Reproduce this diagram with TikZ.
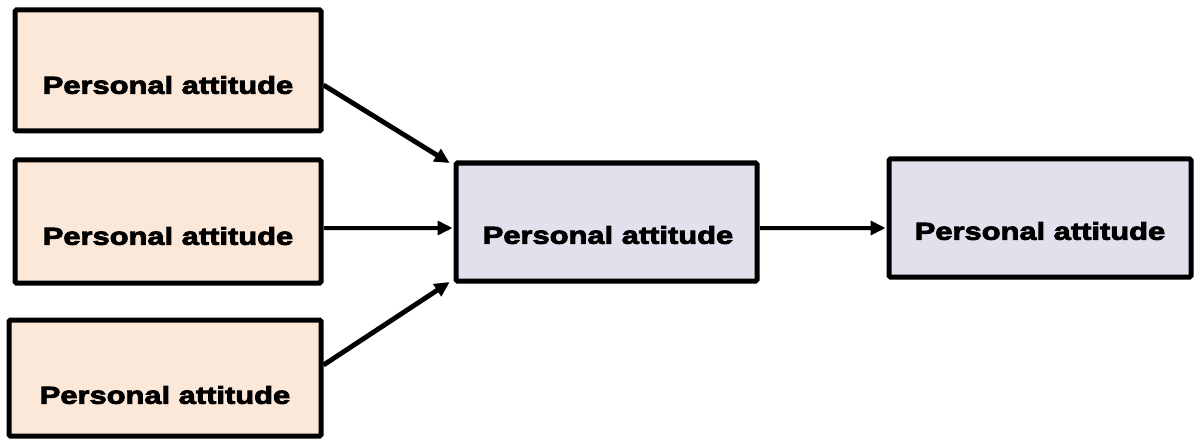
\documentclass[tikz,border=0pt]{standalone}
\usepackage{fontspec}
\usetikzlibrary{calc,arrows.meta}
\newfontfamily\boxfont{Liberation Sans}[BoldFeatures={FakeBold=3.5,FakeStretch=1.26}]
\definecolor{peach}{HTML}{FCE8D9}
\definecolor{lavender}{HTML}{E4DFEC}
\tikzset{
  box/.style={draw=black, line width=5pt, rounded corners=1.5pt, inner sep=0pt},
  inbox/.style={box, fill=peach},
  outbox/.style={box, fill=lavender},
  boxtext/.style={font=\boxfont\bfseries\fontsize{24.5}{28}\selectfont, text=black, inner sep=0pt},
  link/.style={line width=4.8pt, -{Triangle[length=15pt,width=14pt]}, shorten >=1pt},
  linkshadow/.style={line width=5pt, draw=black!25, opacity=0.6, shorten >=4pt}
}
\begin{document}
\begin{tikzpicture}[x=1pt,y=-1pt]
  \useasboundingbox (0,0) rectangle (1194,441);
  % input factors
  \node[inbox, minimum width=306pt, minimum height=121pt] (b1) at (168,70.5) {};
  \node[inbox, minimum width=306pt, minimum height=123pt] (b2) at (168,221.5) {};
  \node[inbox, minimum width=312pt, minimum height=116pt] (b3) at (165,378) {};
  % middle and output stages
  \node[outbox, minimum width=301pt, minimum height=118pt] (c) at (606.5,222) {};
  \node[outbox, minimum width=302pt, minimum height=118pt] (r) at (1040,218) {};
  % labels
  \node[boxtext] (t1) at (168,85) {Personal attitude};
  \node[boxtext] (t2) at (168,236) {Personal attitude};
  \node[boxtext] (t3) at (165,395) {Personal attitude};
  \node[boxtext] (tc) at (608,235) {Personal attitude};
  \node[boxtext] (tr) at (1040,231) {Personal attitude};
  % anchor points of the connectors
  \coordinate (s1) at ([yshift=-14.5pt]b1.east);
  \coordinate (s2) at ([yshift=-6.5pt]b2.east);
  \coordinate (s3) at ([yshift=13pt]b3.east);
  \coordinate (e1) at ([xshift=-3pt,yshift=-3pt]c.north west);
  \coordinate (e2) at (c.west |- s2);
  \coordinate (e3) at ([xshift=-3pt,yshift=2pt]c.south west);
  \coordinate (s4) at ([yshift=-6pt]c.east);
  \coordinate (e4) at (r.west |- s4);
  % soft shadows under the connectors
  \begin{scope}[shift={(2,3)}]
    \draw[linkshadow] (s1) -- (e1);
    \draw[linkshadow] (s2) -- (e2);
    \draw[linkshadow] (s3) -- (e3);
    \draw[linkshadow] (s4) -- (e4);
  \end{scope}
  % connectors
  \draw[link] (s1) -- (e1);
  \draw[link] (s2) -- (e2);
  \draw[link] (s3) -- (e3);
  \draw[link] (s4) -- (e4);
\end{tikzpicture}
\end{document}
